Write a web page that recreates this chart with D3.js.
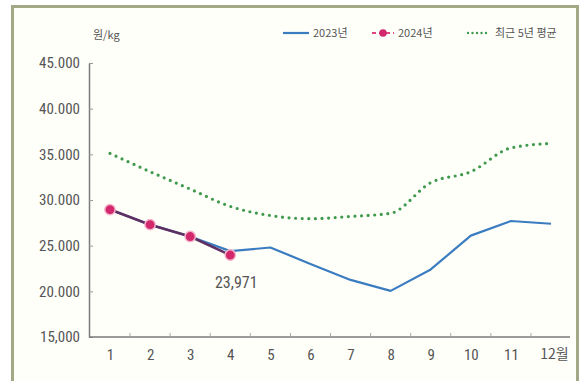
<!DOCTYPE html>
<html>
<head>
<meta charset="utf-8">
<script src="https://cdn.jsdelivr.net/npm/d3@7/dist/d3.min.js"></script>
<style>
  html, body { margin: 0; padding: 0; background: #ffffff; }
  svg { display: block; }
  text { font-family: "Liberation Sans Narrow", "Roboto Condensed", "Liberation Sans", Arial, sans-serif; fill: #555; }
  .kr { font-family: "Noto Sans CJK KR", "Liberation Sans Narrow", sans-serif; }
</style>
</head>
<body>
<svg id="chart" width="583" height="381"></svg>
<script>
// Monthly wholesale price, won per kg
const months = [1, 2, 3, 4, 5, 6, 7, 8, 9, 10, 11, 12];
const monthLabels = ["1", "2", "3", "4", "5", "6", "7", "8", "9", "10", "11", "12월"];
const price2023 = [28950, 27300, 26000, 24400, 24800, 23000, 21250, 20050, 22400, 26100, 27700, 27400];
const price2024 = [28950, 27300, 26000, 23971];
const avg5yr = [35100, 33100, 31200, 29300, 28300, 27950, 28200, 28550, 31900, 33100, 35700, 36200];
const yTicks = [15000, 20000, 25000, 30000, 35000, 40000, 45000];
const yTickLabels = ["15,000", "20.000", "25.000", "30.000", "35.000", "40.000", "45.000"];
const lastLabel = "23,971";

const svg = d3.select("#chart");

// framed panel
svg.append("rect")
  .attr("x", 12.5).attr("y", 6.5)
  .attr("width", 565).attr("height", 380)
  .attr("fill", "#fffffa")
  .attr("stroke", "#a4a886")
  .attr("stroke-width", 3);

const x = d3.scalePoint().domain(months).range([110, 551]);
const y = d3.scaleLinear().domain([15000, 45000]).range([337, 63]);

const axisColor = "#7a7a7a";

// y axis
const yAxis = svg.append("g")
  .attr("transform", "translate(89,0)")
  .call(d3.axisLeft(y)
    .tickValues(yTicks)
    .tickFormat((d, i) => yTickLabels[i])
    .tickSizeInner(-4)
    .tickSizeOuter(0)
    .tickPadding(9));
yAxis.select(".domain").attr("stroke", axisColor).attr("stroke-width", 1.5);
yAxis.selectAll(".tick line").attr("stroke", "#999");
yAxis.selectAll("text").style("font-size", "15px").attr("fill", "#555");

// x axis
const xAxis = svg.append("g")
  .attr("transform", "translate(0,337)")
  .call(d3.axisBottom(x)
    .tickFormat((d, i) => monthLabels[i])
    .tickSizeInner(0)
    .tickSizeOuter(0)
    .tickPadding(12));
xAxis.select(".domain")
  .attr("d", "M89,0H570")
  .attr("stroke", axisColor).attr("stroke-width", 1.5);
xAxis.selectAll("text").style("font-size", "15px").attr("fill", "#555");
xAxis.selectAll(".tick").filter(d => d === 12).select("text").attr("dx", 3).attr("class", "kr").style("font-size", "14px");

// minor ticks between months
const midpoints = d3.pairs(months).map(([a, b]) => (x(a) + x(b)) / 2);
svg.append("g").selectAll("line").data(midpoints).join("line")
  .attr("x1", d => d).attr("x2", d => d)
  .attr("y1", 337).attr("y2", 333)
  .attr("stroke", "#aaa").attr("stroke-width", 1);

const line = d3.line().x((d, i) => x(months[i])).y(d => y(d));

// five-year average, dotted
svg.append("path")
  .datum(avg5yr)
  .attr("d", line.curve(d3.curveMonotoneX))
  .attr("fill", "none")
  .attr("stroke", "#3f9a4e")
  .attr("stroke-width", 3.2)
  .attr("stroke-linecap", "round")
  .attr("stroke-dasharray", "0 6.6");

// 2023
svg.append("path")
  .datum(price2023)
  .attr("d", line.curve(d3.curveLinear))
  .attr("fill", "none")
  .attr("stroke", "#3b7cc0")
  .attr("stroke-width", 2.2)
  .attr("stroke-linejoin", "round");

// 2024
svg.append("path")
  .datum(price2024)
  .attr("d", line.curve(d3.curveLinear))
  .attr("fill", "none")
  .attr("stroke", "#5e2f62")
  .attr("stroke-width", 2.6)
  .attr("stroke-linejoin", "round");

svg.append("g").selectAll("circle").data(price2024).join("circle")
  .attr("cx", (d, i) => x(months[i]))
  .attr("cy", d => y(d))
  .attr("r", 5.2)
  .attr("fill", "#d2286c")
  .attr("stroke", "#f4b5cc")
  .attr("stroke-width", 1.5);

// value label for the latest month
svg.append("text")
  .attr("x", x(months[price2024.length - 1]) + 6)
  .attr("y", y(price2024[price2024.length - 1]) + 33)
  .attr("text-anchor", "middle")
  .style("font-size", "16px")
  .attr("fill", "#444")
  .text(lastLabel);

// unit
svg.append("text")
  .attr("x", 93).attr("y", 39)
  .attr("class", "kr")
  .style("font-size", "11px")
  .attr("fill", "#666")
  .text("원/kg");

// legend
const legend = svg.append("g").attr("transform", "translate(0,33)");
legend.append("line").attr("x1", 283).attr("x2", 309).attr("y1", 0).attr("y2", 0)
  .attr("stroke", "#3b7cc0").attr("stroke-width", 2.2);
legend.append("text").attr("x", 313).attr("y", 4).attr("class", "kr")
  .style("font-size", "11px").attr("fill", "#666").text("2023년");

legend.append("line").attr("x1", 372).attr("x2", 394).attr("y1", 0).attr("y2", 0)
  .attr("stroke", "#e0457f").attr("stroke-width", 2).attr("stroke-dasharray", "4 3");
legend.append("circle").attr("cx", 383).attr("cy", 0).attr("r", 3.8).attr("fill", "#d2286c");
legend.append("text").attr("x", 398).attr("y", 4).attr("class", "kr")
  .style("font-size", "11px").attr("fill", "#666").text("2024년");

legend.append("line").attr("x1", 468).attr("x2", 490).attr("y1", 0).attr("y2", 0)
  .attr("stroke", "#3f9a4e").attr("stroke-width", 2.4)
  .attr("stroke-linecap", "round").attr("stroke-dasharray", "0 4.5");
legend.append("text").attr("x", 495).attr("y", 4).attr("class", "kr")
  .style("font-size", "11px").attr("fill", "#666").text("최근 5년 평균");
</script>
</body>
</html>
